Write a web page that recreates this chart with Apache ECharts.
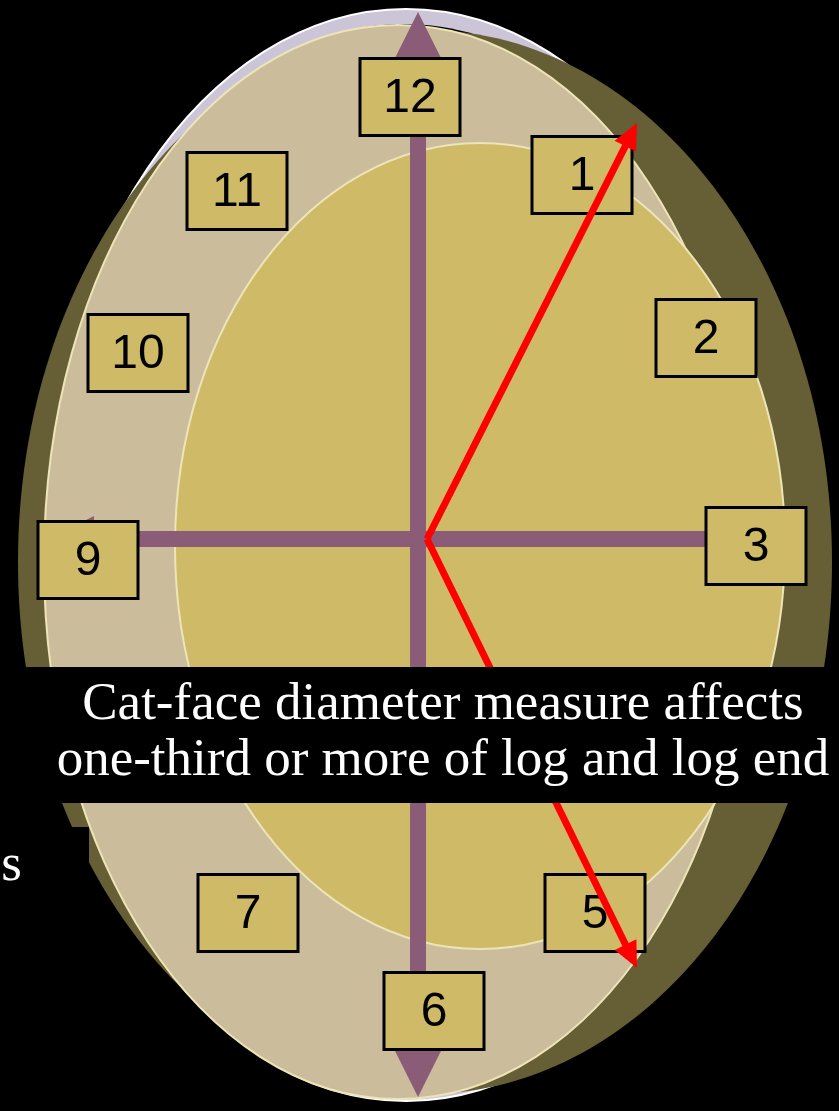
<!DOCTYPE html>
<html>
<head>
<meta charset="utf-8">
<title>Log end - cat-face</title>
<script src="https://cdn.jsdelivr.net/npm/echarts@6/dist/echarts.min.js"></script>
<style>
	html, body { margin: 0; padding: 0; background: #000; }
	#chart { width: 839px; height: 1111px; }
</style>
</head>
<body>
<div id="chart"></div>
<script type="text/javascript">
	// log end discs (drawing units = pixels of the original picture)
	// rim, edge line, shadow side, sapwood, heartwood
	var discCx = [406, 404, 425, 398, 480];
	var discCy = [555, 560, 562, 562, 546];
	var discRx = [366, 360, 407, 354, 305];
	var discRy = [546, 536, 532, 537, 403];

	// clock face labels
	var hourLabels = ['12', '1', '2', '3', '5', '6', '7', '9', '10', '11'];
	var hourX = [410, 582, 706, 756, 595, 434, 248, 88, 138, 237];
	var hourY = [97, 175, 338, 546, 913, 1011, 913, 560, 353, 191];

	// pith cross (purple arrows) from the centre
	var pithX = 418, pithY = 539;
	var pithTipX = [418, 418, 48, 790];
	var pithTipY = [12, 1097, 539, 539];

	// cat-face measure (red arrows)
	var crackX = 427, crackY = 539;
	var crackTipX = [637, 637];
	var crackTipY = [123, 968];

	var captionLines = ['Cat-face diameter measure affects', 'one-third or more of log and log end'];

	var discStyles = [
		{fill: '#CCC5D8', stroke: '#FFFFFF', lineWidth: 2},   // rim
		{fill: '#000000'},                                    // edge line
		{fill: '#665E35'},                                    // shadow side
		{fill: '#CBBD9B', stroke: '#EDE4B8', lineWidth: 2},   // sapwood
		{fill: '#CFBA67', stroke: '#EDE4B8', lineWidth: 2}    // heartwood
	];

	var discData = [];
	for (var i = 0; i < discCx.length; i++) {
		discData.push([discCx[i], discCy[i], discRx[i], discRy[i]]);
	}
	var hourData = [];
	for (var i = 0; i < hourLabels.length; i++) {
		hourData.push([hourX[i], hourY[i]]);
	}
	var pithData = [];
	for (var i = 0; i < pithTipX.length; i++) {
		pithData.push([pithX, pithY, pithTipX[i], pithTipY[i]]);
	}
	var crackData = [];
	for (var i = 0; i < crackTipX.length; i++) {
		crackData.push([crackX, crackY, crackTipX[i], crackTipY[i]]);
	}

	function renderDisc(params, api) {
		var c = api.coord([api.value(0), api.value(1)]);
		var s = api.size([api.value(2), api.value(3)], [api.value(0), api.value(1)]);
		return {
			type: 'ellipse',
			shape: {cx: c[0], cy: c[1], rx: s[0], ry: s[1]},
			style: discStyles[params.dataIndex]
		};
	}

	function renderArrow(color, width, headLen, headHalf) {
		return function (params, api) {
			var a = api.coord([api.value(0), api.value(1)]);
			var b = api.coord([api.value(2), api.value(3)]);
			var dx = b[0] - a[0], dy = b[1] - a[1];
			var len = Math.sqrt(dx * dx + dy * dy);
			var ux = dx / len, uy = dy / len;
			var bx = b[0] - ux * headLen, by = b[1] - uy * headLen;
			return {
				type: 'group',
				children: [
					{type: 'line', shape: {x1: a[0], y1: a[1], x2: bx + ux * 2, y2: by + uy * 2},
						style: {stroke: color, lineWidth: width}},
					{type: 'polygon', shape: {points: [[b[0], b[1]], [bx - uy * headHalf, by + ux * headHalf], [bx + uy * headHalf, by - ux * headHalf]]},
						style: {fill: color}}
				]
			};
		};
	}

	function renderHour(params, api) {
		var c = api.coord([api.value(0), api.value(1)]);
		var s = api.size([100, 77], [api.value(0), api.value(1)]);
		return {
			type: 'group',
			children: [
				{type: 'rect', shape: {x: c[0] - s[0] / 2, y: c[1] - s[1] / 2, width: s[0], height: s[1]},
					style: {fill: '#CFBA67', stroke: '#000', lineWidth: 3}},
				{type: 'text', style: {text: hourLabels[params.dataIndex], x: c[0], y: c[1] + 2,
					align: 'center', verticalAlign: 'middle', textAlign: 'center', textVerticalAlign: 'middle',
					font: '48px "Liberation Sans", Arial, sans-serif', fill: '#000'}}
			]
		};
	}

	var myChart = echarts.init(document.getElementById('chart'), null, {renderer: 'canvas'});
	var option = {
		backgroundColor: '#000',
		animation: false,
		grid: {left: 0, right: 0, top: 0, bottom: 0},
		xAxis: {type: 'value', min: 0, max: 839, show: false},
		yAxis: {type: 'value', min: 0, max: 1111, inverse: true, show: false},
		series: [
			{type: 'custom', name: 'discs', data: discData, encode: {x: 0, y: 1}, renderItem: renderDisc, clip: false, z: 1},
			{type: 'custom', name: 'pith', data: pithData, encode: {x: [0, 2], y: [1, 3]}, renderItem: renderArrow('#8A5C77', 16, 46, 23), z: 2},
			{type: 'custom', name: 'hours', data: hourData, encode: {x: 0, y: 1}, renderItem: renderHour, z: 3},
			{type: 'custom', name: 'catface', data: crackData, encode: {x: [0, 2], y: [1, 3]}, renderItem: renderArrow('#FF0000', 7, 26, 12), z: 4}
		],
		graphic: [
			{type: 'rect', z: 100, shape: {x: 0, y: 667, width: 839, height: 136}, style: {fill: '#000'}},
			{type: 'rect', z: 100, shape: {x: 0, y: 827, width: 89, height: 60}, style: {fill: '#000'}},
			{type: 'text', z: 101, style: {text: captionLines[0], x: 443, y: 705, textAlign: 'center', textVerticalAlign: 'middle',
				font: '53px "Liberation Serif", "DejaVu Serif", serif', fill: '#fff'}},
			{type: 'text', z: 101, style: {text: captionLines[1], x: 443, y: 761, textAlign: 'center', textVerticalAlign: 'middle',
				font: '53px "Liberation Serif", "DejaVu Serif", serif', fill: '#fff'}},
			{type: 'text', z: 101, style: {text: 's', x: 22, y: 866, textAlign: 'right', textVerticalAlign: 'middle',
				font: '53px "Liberation Serif", "DejaVu Serif", serif', fill: '#fff'}}
		]
	};
	myChart.setOption(option);
</script>
</body>
</html>
